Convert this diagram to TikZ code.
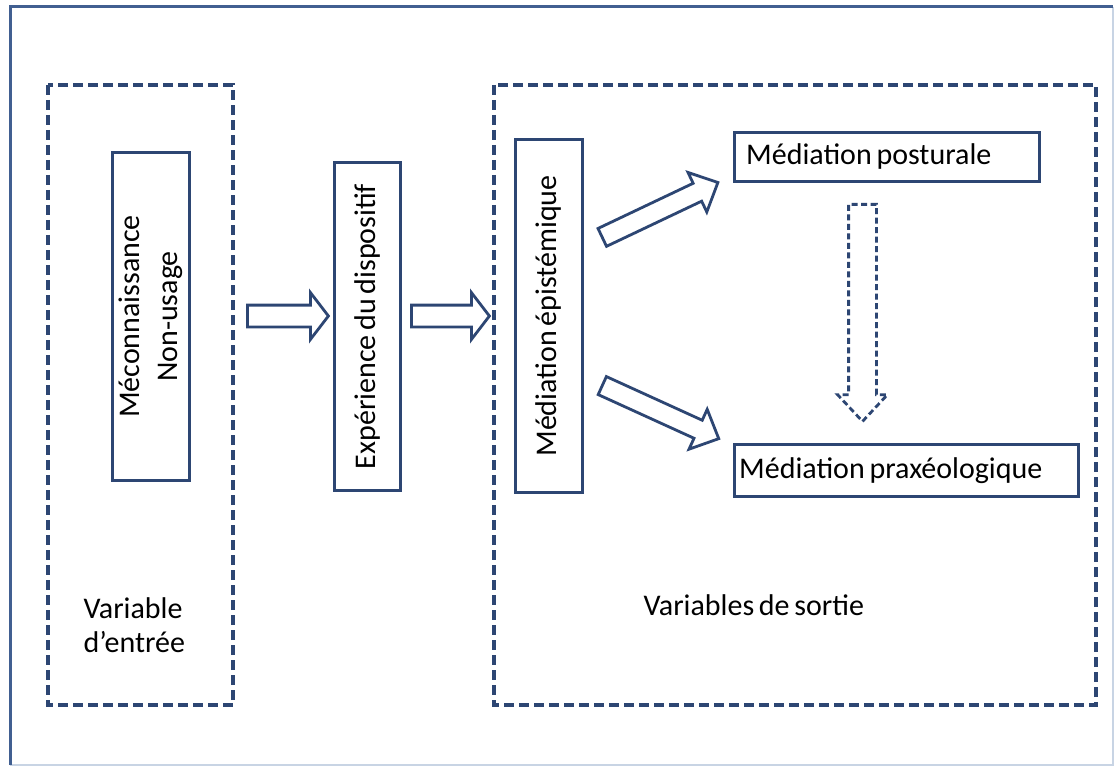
\documentclass[tikz,border=0pt]{standalone}
\usepackage{fontspec}
\setmainfont[WordSpace=0.7]{Carlito}
\usetikzlibrary{shapes.arrows,calc}
\definecolor{frameblue}{RGB}{65,95,145}
\definecolor{framelight}{RGB}{200,212,228}
\definecolor{linenavy}{RGB}{45,70,115}
\begin{document}
\begin{tikzpicture}[x=1pt,y=-1pt,
  lbl/.style={font=\fontsize{30}{36}\selectfont, text=black},
  solidbox/.style={draw=linenavy, line width=3pt, fill=white, inner sep=0pt},
  groupbox/.style={draw=linenavy, line width=3.2pt, dash pattern=on 10pt off 5pt},
  blockarrow/.style={single arrow, draw=linenavy, line width=2.8pt, fill=white, inner xsep=0pt, anchor=tail},
  dashedarrow/.style={blockarrow, dash pattern=on 6pt off 3.5pt}
]
\useasboundingbox (0,0) rectangle (1115,767);
% outer frame
\draw[framelight, line width=2pt] (1113,7) -- (1113,765) -- (10,765);
\draw[frameblue, line width=3pt] (10,765) -- (10,7) -- (1113,7);
% group boxes
\draw[groupbox] (48,85) rectangle (233,705);
\draw[groupbox] (494,85) rectangle (1096,705);
% boxes
\node[solidbox, rotate=90, minimum width=327pt, minimum height=77pt, lbl, align=center] (meco) at (150.5,316.5) {Méconnaissance\\[2pt]Non-usage};
\node[solidbox, rotate=90, minimum width=327pt, minimum height=66pt, lbl] (expe) at (367,326.5) {Expérience du dispositif};
\node[solidbox, rotate=90, minimum width=352pt, minimum height=67pt, lbl] (epis) at (548.5,316) {Médiation épistémique};
\node[solidbox, anchor=north west, minimum width=305pt, minimum height=49pt] (post) at (733,131) {};
\node[lbl, anchor=west, inner sep=0pt] (postt) at ($(post.west)+(13,0)$) {Médiation posturale};
\node[solidbox, anchor=north west, minimum width=344pt, minimum height=52pt] (prax) at (733,443) {};
\node[lbl, anchor=west, inner sep=0pt] (praxt) at ($(prax.west)+(6,0)$) {Médiation praxéologique};
% block arrows
\node[blockarrow, minimum height=81pt, inner ysep=9.5pt, single arrow head extend=12.5pt, single arrow tip angle=105] (a1) at (246,316) {};
\node[blockarrow, minimum height=78pt, inner ysep=9.5pt, single arrow head extend=12.5pt, single arrow tip angle=105] (a2) at (410,316) {};
\node[blockarrow, rotate=25.4, minimum height=128pt, inner ysep=8.5pt, single arrow head extend=12pt, single arrow tip angle=88] (a3) at (601,238) {};
\node[blockarrow, rotate=-24.5, minimum height=128pt, inner ysep=8.5pt, single arrow head extend=12pt, single arrow tip angle=88] (a4) at (601,385) {};
\node[dashedarrow, rotate=-90, minimum height=217pt, inner ysep=12.5pt, single arrow head extend=11pt, single arrow tip angle=86] (a5) at (862.5,203) {};
% labels
\node[lbl, anchor=base west, align=left] (lin) at (80,618) {Variable};
\node[lbl, anchor=base west, align=left] (lin2) at (80,652) {d’entrée};
\node[lbl, anchor=base west] (lout) at (640,615) {Variables de sortie};
\end{tikzpicture}
\end{document}
